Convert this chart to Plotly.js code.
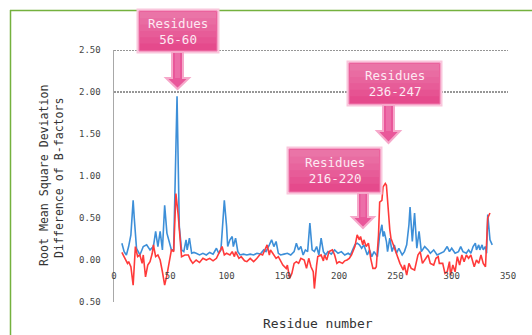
<!DOCTYPE html>
<html>
<head>
<meta charset="utf-8">
<script src="https://cdn.plot.ly/plotly-3.0.1.min.js"></script>
<style>
html,body{margin:0;padding:0;background:#fff;}
#chart{width:532px;height:335px;}
</style>
</head>
<body>
<div id="chart"></div>
<script>
// ---- data ----
const blueX = [7,9,11,13,15,17,18,20,23,26,29,32,35,37,39,41,43,45,47,49,51,53,56,58,60,62,64,65,67,69,71,73,76,79,82,85,88,91,93,95,96,98,100,101,103,105,106,108,110,112,115,118,121,124,127,130,133,135,138,140,142,144,146,148,151,154,157,160,162,164,166,168,170,172,174,176,178,180,182,184,186,188,190,193,196,199,202,205,208,210,212,214,216,218,220,222,225,227,229,231,234,236,238,239,240,242,243,245,247,249,251,253,256,258,260,262,263,265,267,269,271,273,276,279,281,284,287,290,293,296,298,300,303,306,308,310,313,315,317,319,321,322,324,325,327,328,330,331,332,334,336];
const blueY = [0.20,0.10,0.06,0.16,0.30,0.71,0.50,0.14,0.06,0.16,0.18,0.12,0.16,0.34,0.16,0.34,0.12,0.65,0.32,0.22,0.12,0.12,1.95,0.40,0.12,0.10,0.24,0.12,0.26,0.08,0.09,0.08,0.06,0.08,0.06,0.09,0.07,0.14,0.08,0.12,0.30,0.71,0.40,0.16,0.24,0.28,0.16,0.26,0.10,0.06,0.07,0.06,0.07,0.06,0.08,0.07,0.12,0.10,0.18,0.24,0.16,0.22,0.08,0.06,0.07,0.08,0.06,0.10,0.20,0.12,0.16,0.06,0.12,0.10,0.44,0.12,0.10,0.16,0.06,0.26,0.10,0.06,0.10,0.07,0.12,0.08,0.10,0.06,0.08,0.06,0.12,0.18,0.20,0.18,0.14,0.18,0.06,0.12,0.04,0.10,0.04,0.30,0.42,0.28,0.34,0.22,0.10,0.26,0.10,0.18,0.08,0.14,0.06,0.10,0.18,0.42,0.63,0.22,0.56,0.14,0.34,0.10,0.16,0.12,0.08,0.12,0.06,0.08,0.10,0.16,0.10,0.14,0.08,0.10,0.16,0.10,0.08,0.12,0.08,0.16,0.20,0.12,0.18,0.12,0.18,0.12,0.16,0.08,0.54,0.24,0.18];

const redX = [7,10,12,13,15,17,18,19,21,23,25,26,28,30,32,34,35,37,39,41,43,45,47,49,50,51,53,55,57,59,60,63,66,68,70,73,76,79,82,85,88,91,93,95,96,98,100,103,105,107,108,111,113,116,118,121,124,127,130,132,134,136,138,139,141,144,146,148,150,153,154,156,158,160,162,164,166,169,171,173,175,177,178,180,181,184,186,187,189,191,194,196,198,200,203,205,207,209,211,214,216,218,219,221,222,224,226,227,228,230,232,233,235,236,238,239,241,242,243,245,246,248,250,252,254,257,258,260,262,264,267,270,272,274,277,279,281,284,286,288,289,292,294,296,298,299,301,303,305,307,309,311,313,315,317,320,322,324,326,328,330,332,334];
const redY = [0.09,0.00,-0.04,-0.02,-0.08,-0.30,-0.02,0.16,0.04,0.06,-0.04,0.06,-0.20,-0.06,-0.02,0.08,0.18,0.04,0.06,0.00,-0.14,-0.30,-0.18,-0.02,0.04,0.12,0.10,0.79,0.54,0.14,0.04,0.06,0.06,0.00,-0.04,0.00,-0.03,0.02,0.00,0.02,-0.01,0.02,0.07,0.12,0.16,0.06,0.08,0.06,0.10,0.04,0.10,0.02,0.04,-0.01,-0.02,0.02,-0.02,0.02,0.07,0.06,0.12,0.18,0.06,0.12,0.08,0.02,0.04,-0.01,-0.06,-0.10,-0.06,-0.22,-0.16,-0.04,-0.02,-0.04,0.02,0.00,-0.10,0.02,-0.08,-0.14,-0.34,-0.06,0.04,0.06,-0.01,0.06,0.00,0.10,0.12,0.06,-0.04,-0.02,-0.04,-0.01,0.00,0.02,0.06,0.16,0.30,0.24,0.28,0.18,0.24,0.16,0.20,0.12,0.02,-0.10,-0.10,-0.08,0.30,0.69,0.71,0.87,0.91,0.89,0.69,0.36,0.26,0.18,0.12,0.04,-0.04,-0.12,-0.06,-0.18,-0.04,-0.10,-0.12,0.06,0.10,-0.04,0.02,0.06,-0.04,-0.06,0.02,0.04,-0.04,-0.04,-0.16,-0.14,-0.02,-0.18,-0.06,-0.14,0.04,-0.06,0.06,-0.02,0.06,0.02,0.06,-0.08,0.00,-0.04,0.06,-0.04,-0.08,0.50,0.56];

const xTickVals = [0,50,100,150,200,250,300,350];
const xTickText = ["0","50","100","150","200","250","300","350"];
const yTickVals = [2.5,2.0,1.5,1.0,0.5,0.0,-0.5];
const yTickText = ["2.50","2.00","1.50","1.00","0.50","0.00","0.50"];
const gridVals = [2.5,2.0];

const callouts = [
  {text:"Residues<br>56-60",   box:[138,10,218,52],  shaft:[172,183], head:[166,189], headTop:78,  tip:89},
  {text:"Residues<br>236-247", box:[348,62,441,105], shaft:[383,394], head:[377,400], headTop:131, tip:143},
  {text:"Residues<br>216-220", box:[288,148,381,193],shaft:[358,368], head:[352,374], headTop:217, tip:228}
];

// ---- layout geometry ----
const W = 532, H = 335;
const M = {l:114, r:24, t:50, b:33};
const PW = W - M.l - M.r, PH = H - M.t - M.b;
const px = v => (v - M.l) / PW;
const py = v => (H - M.b - v) / PH;
const mono = "DejaVu Sans Mono, Liberation Mono, monospace";

const shapes = [];
shapes.push({type:'line', xref:'paper', yref:'paper', x0:px(10.5), x1:px(10.5), y0:py(10), y1:py(340), line:{color:'#74b13e', width:1.5}});
shapes.push({type:'line', xref:'paper', yref:'paper', x0:px(10), x1:px(540), y0:py(10.5), y1:py(10.5), line:{color:'#74b13e', width:1.5}});
gridVals.forEach(g => shapes.push({type:'line', xref:'paper', yref:'y', x0:0, x1:1, y0:g, y1:g, layer:'below', line:{color:'#2e2e2e', width:1, dash:'2px,1px'}}));

const annotations = [];
callouts.forEach(c => {
  const [bx0,by0,bx1,by1] = c.box;
  shapes.push({type:'rect', xref:'paper', yref:'paper', x0:px(bx0-1.5), x1:px(bx1+1.5), y0:py(by0-1.5), y1:py(by1+1.5), fillcolor:'#f9c6dc', line:{width:0}});
  shapes.push({type:'rect', xref:'paper', yref:'paper', x0:px(bx0+1), x1:px(bx1-1), y0:py(by0+1), y1:py(by1-1), fillcolor:'#e54a8c', line:{color:'#f07aae', width:1}});
  // soft vertical gradient: stacked translucent bands from the top
  const hgt = by1 - by0;
  [0.75,0.6,0.45,0.3,0.15].forEach(f => {
    shapes.push({type:'rect', xref:'paper', yref:'paper', x0:px(bx0+2), x1:px(bx1-2), y0:py(by0+2), y1:py(by0+2+hgt*f), fillcolor:'rgba(255,255,255,0.055)', line:{width:0}});
  });
  const [s0,s1] = c.shaft, [h0,h1] = c.head;
  const mid = (h0+h1)/2;
  const pts = [[s0,by1],[s1,by1],[s1,c.headTop],[h1,c.headTop],[mid,c.tip],[h0,c.headTop],[s0,c.headTop]];
  const path = 'M' + pts.map(p => px(p[0]) + ',' + py(p[1])).join(' L') + ' Z';
  shapes.push({type:'path', xref:'paper', yref:'paper', path:path, fillcolor:'#e9579a', line:{color:'#f6a8ca', width:2}});
  const cx = (s0+s1)/2;
  const pts2 = [[cx-2.5,by1+1],[cx+2.5,by1+1],[cx+2.5,c.headTop],[cx-2.5,c.headTop]];
  shapes.push({type:'path', xref:'paper', yref:'paper', path:'M' + pts2.map(p => px(p[0]) + ',' + py(p[1])).join(' L') + ' Z', fillcolor:'rgba(255,255,255,0.14)', line:{width:0}});
  annotations.push({xref:'paper', yref:'paper', x:px((bx0+bx1)/2), y:py((by0+by1)/2), xanchor:'center', yanchor:'middle',
    text:c.text, showarrow:false, font:{family:mono, size:12.5, color:'#fde9f2'}});
});

annotations.push({xref:'paper', yref:'paper', x:px(44), y:py(176), xanchor:'center', yanchor:'middle', textangle:-90,
  text:'Root Mean Square Deviation', showarrow:false, font:{family:mono, size:11.6, color:'#333'}});
annotations.push({xref:'paper', yref:'paper', x:px(59), y:py(178), xanchor:'center', yanchor:'middle', textangle:-90,
  text:'Difference of B-factors', showarrow:false, font:{family:mono, size:11.6, color:'#333'}});
annotations.push({xref:'paper', yref:'paper', x:px(318), y:py(323), xanchor:'center', yanchor:'middle',
  text:'Residue number', showarrow:false, font:{family:mono, size:13, color:'#333'}});

const traces = [
  {x:blueX, y:blueY, type:'scatter', mode:'lines', line:{color:'#3d8fd8', width:1.6}, hoverinfo:'skip'},
  {x:redX, y:redY, type:'scatter', mode:'lines', line:{color:'#ff3a3a', width:1.6}, hoverinfo:'skip'}
];

const layout = {
  width:W, height:H, margin:M,
  paper_bgcolor:'#ffffff', plot_bgcolor:'#ffffff',
  showlegend:false,
  xaxis:{range:[0,350], anchor:'free', position:(0-(-0.5))/3, tickvals:xTickVals, ticktext:xTickText,
    showline:false, showgrid:false, zeroline:false, ticks:'', ticklabelstandoff:9,
    tickfont:{family:mono, size:9, color:'#444'}, fixedrange:true},
  yaxis:{range:[-0.5,2.5], tickvals:yTickVals, ticktext:yTickText, showline:true, linecolor:'#a8a8a8', linewidth:1.5,
    showgrid:false, zeroline:false, ticks:'', ticklabelstandoff:10,
    tickfont:{family:mono, size:9, color:'#444'}, fixedrange:true},
  shapes:shapes, annotations:annotations
};

Plotly.newPlot('chart', traces, layout, {staticPlot:true, displayModeBar:false});
</script>
</body>
</html>
